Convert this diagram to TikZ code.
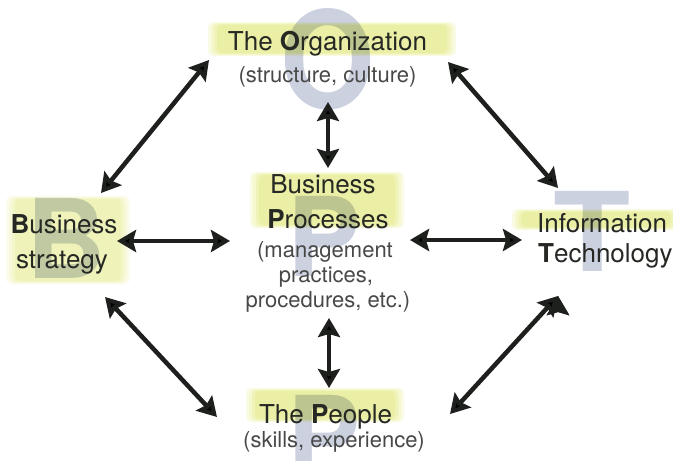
\documentclass[tikz,border=0pt]{standalone}
\usepackage{fontspec}
\setmainfont{TeX Gyre Heros}
\usetikzlibrary{arrows.meta}

\definecolor{halftone}{RGB}{204,209,223}
\definecolor{marker}{RGB}{240,245,170}
\definecolor{ink}{RGB}{38,40,36}
\definecolor{subink}{RGB}{72,72,72}

\tikzset{
  bigletter/.style={font=\fontsize{110}{110}\selectfont\bfseries, text=halftone, inner sep=0pt},
  title/.style={font=\fontsize{26}{30}\selectfont, text=ink, anchor=base, inner sep=0pt},
  subtitle/.style={font=\fontsize{22}{26}\selectfont, text=subink, anchor=base, inner sep=0pt},
  marker/.style={fill=marker, blend mode=multiply, opacity=0.3, rounded corners=5pt},
  link/.style={line width=4.5pt, draw=ink!80!black}
}

% soft marker stroke: a few stacked, shrinking boxes
\newcommand{\markerbox}[5][]{%
  \foreach \d in {0,3,6,9}
    \fill[marker,#1] (#2+\d,#3+\d/3) rectangle (#4-\d,#5-\d/3);
}

\begin{document}
\begin{tikzpicture}[x=1pt,y=-1pt,>={Stealth[length=19pt,width=22pt,inset=3pt]}]

  \useasboundingbox[fill=white] (0,0) rectangle (673,461);

  % big initials in the back
  \node[bigletter, xscale=0.9, font=\fontsize{135}{135}\selectfont\bfseries] (bigO) at (328,59) {O};
  \node[bigletter] (bigB) at (66,238) {B};
  \node[bigletter] (bigP) at (324,236) {P};
  \node[bigletter, xscale=1.15] (bigT) at (592,231) {T};
  \node[bigletter] (bigPp) at (324,435) {P};

  % marker strokes
  \markerbox{208}{22}{456}{56}
  \markerbox[opacity=0.22]{6}{196}{130}{284}
  \markerbox{250}{172}{404}{228}
  \markerbox{512}{209}{680}{230}
  \markerbox{246}{388}{404}{422}

  % labels
  \node[title] (org) at (327.5,50) {The \textbf{O}rganization};
  \node[subtitle] (orgsub) at (327.5,82) {(structure, culture)};

  \node[title] (strat) at (64,233) {\textbf{B}usiness};
  \node[title] (stratb) at (62,268) {strategy};

  \node[title] (proc) at (323,193) {Business};
  \node[title] (procb) at (328,228) {\textbf{P}rocesses};
  \node[subtitle] (procsub) at (325,257) {(management};
  \node[subtitle] (procsubb) at (326,282) {practices,};
  \node[subtitle] (procsubc) at (328,307) {procedures, etc.)};

  \node[title, anchor=base west] (info) at (537,232) {Information};
  \node[title, anchor=base west] (tech) at (538,262) {\textbf{T}echnology};

  \node[title] (people) at (325.5,423) {The \textbf{P}eople};
  \node[subtitle] (peoplesub) at (334,447) {(skills, experience)};

  % arrow ends
  \coordinate (strat-ne) at (101,193);
  \coordinate (org-sw) at (209,60);
  \coordinate (org-se) at (448,62);
  \coordinate (info-nw) at (558,188);
  \coordinate (org-s) at (328,102);
  \coordinate (proc-n) at (328,168);
  \coordinate (strat-e) at (117,241);
  \coordinate (proc-w) at (230,241);
  \coordinate (proc-e) at (410,240);
  \coordinate (info-w) at (522,240);
  \coordinate (proc-s) at (329,318);
  \coordinate (people-n) at (329,388);
  \coordinate (strat-se) at (105,297);
  \coordinate (people-nw) at (217,417);
  \coordinate (info-sw) at (558,296);
  \coordinate (people-ne) at (450,414);

  \path[<->, link]
    (strat-ne) edge (org-sw)
    (org-se) edge (info-nw)
    (org-s) edge (proc-n)

    (strat-e) edge (proc-w)
    (proc-e) edge (info-w)

    (proc-s) edge (people-n)
    (strat-se) edge (people-nw)
    (info-sw) edge (people-ne)
    ;
\end{tikzpicture}
\end{document}
